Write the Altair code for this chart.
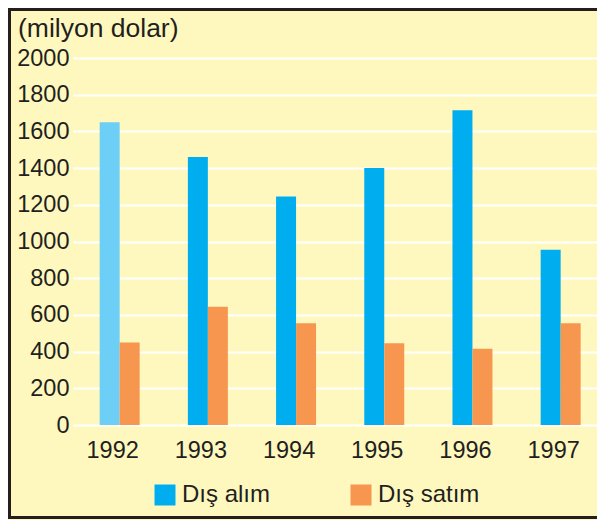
import altair as alt
import pandas as pd

years = ["1992", "1993", "1994", "1995", "1996", "1997"]
dis_alim = [1650, 1460, 1245, 1400, 1715, 955]
dis_satim = [450, 645, 555, 445, 415, 555]
series_names = ["Dış alım", "Dış satım"]
series_colors = ["#00AEEF", "#F7964F"]
highlight_color = "#6DCFF6"
y_ticks = list(range(0, 2001, 200))
unit_title = "(milyon dolar)"

rows = []
for i, y in enumerate(years):
    rows.append({"year": y, "series": series_names[0], "value": dis_alim[i]})
    rows.append({"year": y, "series": series_names[1], "value": dis_satim[i]})
df = pd.DataFrame(rows)

FONT = "Liberation Sans"
TXT = "#231F20"

bars = alt.Chart(df).mark_bar().encode(
    x=alt.X(
        "year:N",
        sort=years,
        scale=alt.Scale(paddingInner=0.5465, paddingOuter=0.2438, align=0.62),
        axis=alt.Axis(
            title=None, labelAngle=0, domain=False, ticks=False, grid=False,
            labelFont=FONT, labelFontSize=23.5, labelColor=TXT,
            labelPadding=13, labelOffset=-7,
        ),
    ),
    xOffset=alt.XOffset("series:N", sort=series_names),
    y=alt.Y(
        "value:Q",
        scale=alt.Scale(domain=[0, 2000], nice=False),
        axis=alt.Axis(
            title=None, values=y_ticks, format="d", domain=False, ticks=False,
            labelFont=FONT, labelFontSize=23.5, labelColor=TXT, labelPadding=4,
            grid=True, gridColor="#FFFFFF", gridWidth=2, gridOpacity=1,
        ),
    ),
    color=alt.condition(
        "datum.year == '1992' && datum.series == 'Dış alım'",
        alt.value(highlight_color),
        alt.Color(
            "series:N",
            sort=series_names,
            scale=alt.Scale(domain=series_names, range=series_colors),
            legend=alt.Legend(
                title=None, orient="none", legendX=80, legendY=425,
                direction="horizontal", symbolType="square", symbolSize=441,
                symbolStrokeWidth=0, symbolOpacity=1,
                labelFont=FONT, labelFontSize=24, labelColor=TXT,
                labelOffset=5, columnPadding=78, padding=0,
            ),
        ),
    ),
)

title_text = alt.Chart(pd.DataFrame({"t": [unit_title]})).mark_text(
    align="left", baseline="middle", font=FONT, fontSize=26.5, color=TXT
).encode(x=alt.value(-55), y=alt.value(-29.5), text="t:N")

border = alt.Chart(pd.DataFrame({"b": [0]})).mark_rect(
    fillOpacity=0, stroke="#231F20", strokeWidth=3
).encode(
    x=alt.value(-63.5), x2=alt.value(540), y=alt.value(-48.5), y2=alt.value(459.5)
)

chart = alt.layer(bars, title_text, border).properties(
    width=524,
    height=367,
    autosize=alt.AutoSizeParams(type="none"),
    padding={"left": 65, "top": 50, "right": 0, "bottom": 95},
    background="#FFF8BE",
).configure_view(stroke=None)

chart.save("out.html", embed_options={"renderer": "svg", "actions": False})
